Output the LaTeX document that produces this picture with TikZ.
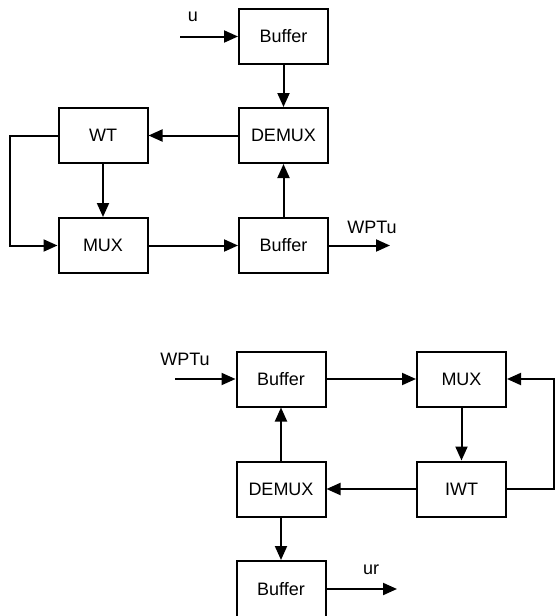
\documentclass[tikz,border=0pt]{standalone}
\usepackage{fontspec}
\setmainfont{Liberation Sans}
\usetikzlibrary{arrows.meta}
\begin{document}
\begin{tikzpicture}[x=1pt,y=-1pt,
  blk/.style={draw,line width=2pt,rectangle,minimum width=89pt,minimum height=55pt,inner sep=0pt,font=\fontsize{18}{21}\selectfont},
  lbl/.style={inner sep=0pt,font=\fontsize{18}{21}\selectfont},
  conn/.style={line width=2pt,-{Triangle[length=14pt,width=12pt]}},
  wire/.style={line width=2pt}]
\useasboundingbox (0,0) rectangle (555,616);
% top
\node[blk] (buf1) at (283.5,36.5) {Buffer};
\node[blk] (demux1) at (283.5,135.5) {DEMUX};
\node[blk] (wt) at (103,135.5) {WT};
\node[blk] (mux1) at (103,245.5) {MUX};
\node[blk] (buf2) at (283.5,245.5) {Buffer};
\coordinate (uin) at (180,36.5);
\coordinate (wptout) at (390,245.5);
\node[lbl] (lu) at (193,17) {u};
\node[lbl] (lwpt1) at (372,227) {WPTu};
\draw[conn] (uin) -- (buf1.west);
\draw[conn] (buf1.south) -- (demux1.north);
\draw[conn] (demux1.west) -- (wt.east);
\draw[conn] (wt.south) -- (mux1.north);
\draw[conn] (wt.west) -- ++(-48,0) |- (mux1.west);
\draw[conn] (mux1.east) -- (buf2.west);
\draw[conn] (buf2.north) -- (demux1.south);
\draw[conn] (buf2.east) -- (wptout);
% bottom
\node[blk] (buf3) at (281,379) {Buffer};
\node[blk] (mux2) at (461.5,379) {MUX};
\node[blk] (demux2) at (281,489) {DEMUX};
\node[blk] (iwt) at (461.5,489) {IWT};
\node[blk,minimum height=56pt] (buf4) at (281,589) {Buffer};
\coordinate (wptin) at (175,379);
\coordinate (urout) at (397,589);
\node[lbl] (lwpt2) at (185,359) {WPTu};
\node[lbl] (lur) at (371,570) {ur};
\draw[conn] (wptin) -- (buf3.west);
\draw[conn] (buf3.east) -- (mux2.west);
\draw[conn] (mux2.south) -- (iwt.north);
\draw[conn] (iwt.east) -- ++(47,0) |- (mux2.east);
\draw[conn] (iwt.west) -- (demux2.east);
\draw[conn] (demux2.north) -- (buf3.south);
\draw[conn] (demux2.south) -- (buf4.north);
\draw[conn] (buf4.east) -- (urout);
\end{tikzpicture}
\end{document}
